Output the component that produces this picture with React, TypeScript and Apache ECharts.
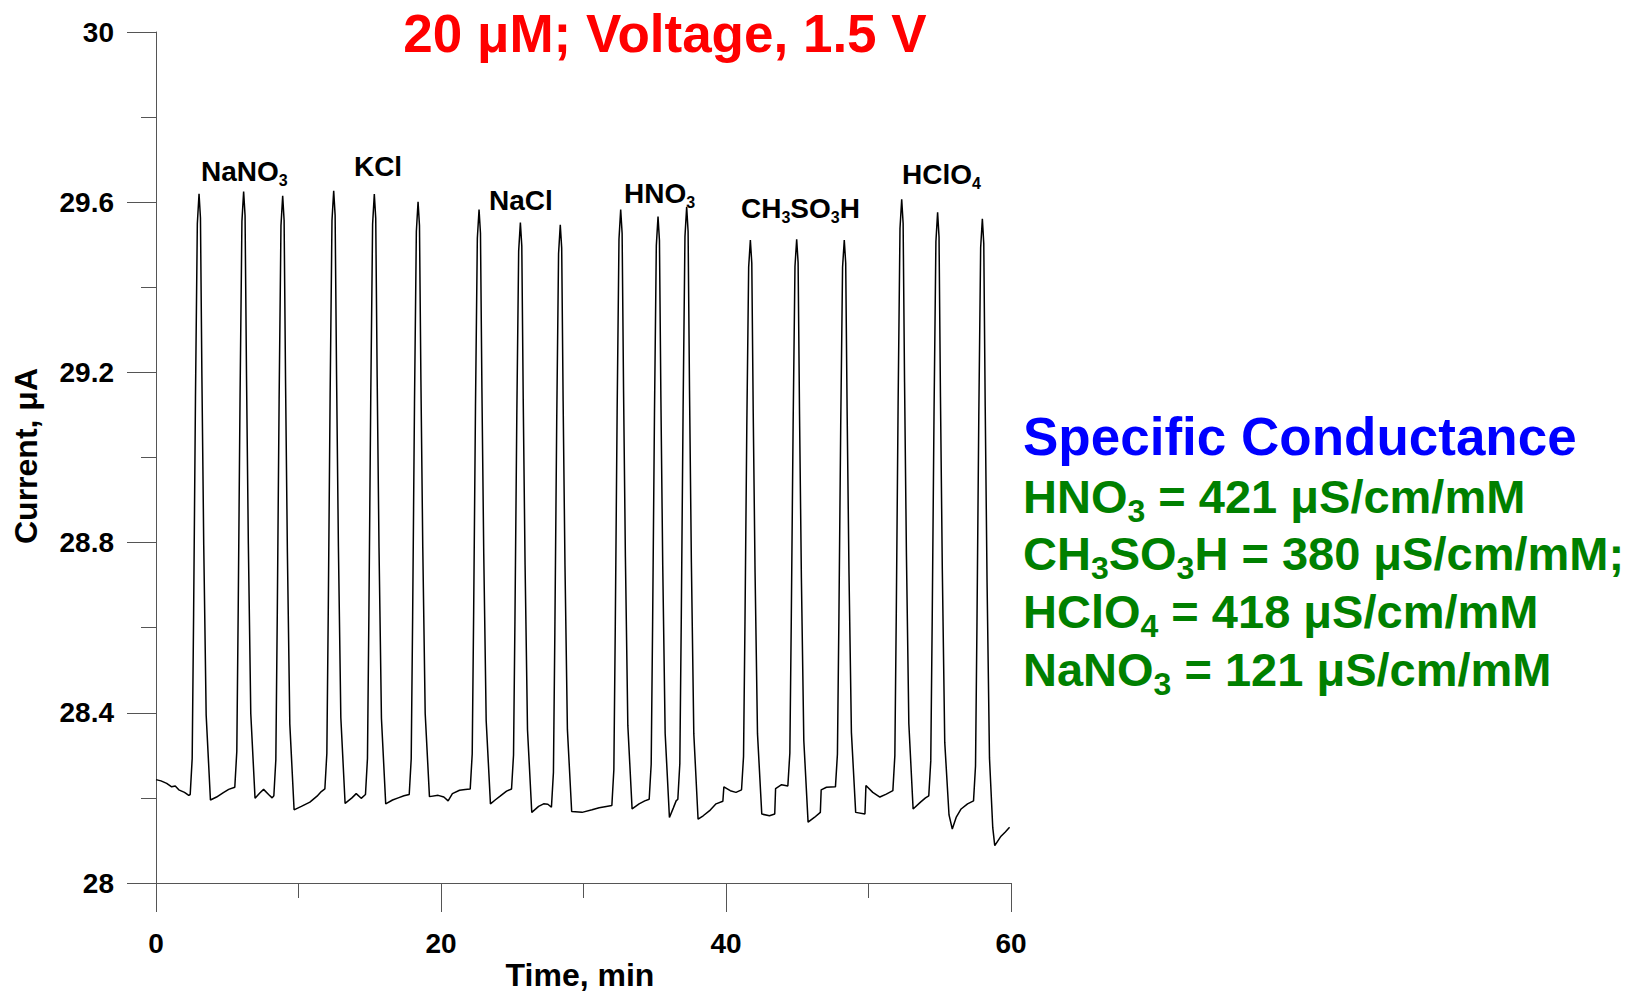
import React, { useEffect, useRef } from "react";
import * as echarts from "echarts";

const FONT = '"Liberation Sans", Arial, Helvetica, sans-serif';

// ---- Data: [time (min), current (µA)] ----
const traceStart: number[][] = [
  [0, 28.243], [0.35, 28.24], [0.75, 28.234], [1.1, 28.226], [1.35, 28.228], [1.6, 28.219], [2.0, 28.213], [2.3, 28.206],
];

const traceNaNO3: number[][] = [
  [2.4, 28.208], [2.54, 28.293], [2.64, 28.632], [2.77, 29.14], [2.9, 29.549], [3.02, 29.62], [3.12, 29.563], [3.22, 29.193], [3.35, 28.794], [3.52, 28.395], [3.82, 28.195],
  [4.25, 28.202], [4.7, 28.212], [5.1, 28.22],
  [5.53, 28.225], [5.67, 28.309], [5.77, 28.645], [5.9, 29.149], [6.03, 29.555], [6.15, 29.625], [6.25, 29.568], [6.35, 29.197], [6.48, 28.798], [6.65, 28.399], [6.95, 28.199],
  [7.3, 28.212], [7.55, 28.22], [7.9, 28.208], [8.15, 28.2],
  [8.27, 28.205], [8.41, 28.29], [8.51, 28.628], [8.64, 29.136], [8.77, 29.545], [8.89, 29.615], [8.99, 29.557], [9.09, 29.182], [9.22, 28.778], [9.39, 28.374], [9.69, 28.172],
  [10.2, 28.18], [10.8, 28.19], [11.3, 28.204], [11.6, 28.215],
];

const traceKCl: number[][] = [
  [11.85, 28.221], [11.99, 28.305], [12.09, 28.643], [12.22, 29.149], [12.35, 29.557], [12.47, 29.627], [12.57, 29.569], [12.67, 29.195], [12.8, 28.792], [12.97, 28.389], [13.27, 28.187],
  [13.75, 28.2], [14.05, 28.21], [14.4, 28.199],
  [14.7, 28.208], [14.84, 28.293], [14.94, 28.631], [15.07, 29.139], [15.2, 29.548], [15.32, 29.619], [15.42, 29.562], [15.52, 29.189], [15.65, 28.788], [15.82, 28.387], [16.12, 28.186],
  [16.6, 28.195], [17.0, 28.2], [17.4, 28.205],
  [17.77, 28.208], [17.91, 28.292], [18.01, 28.626], [18.14, 29.127], [18.27, 29.531], [18.39, 29.601], [18.49, 29.545], [18.59, 29.182], [18.72, 28.79], [18.89, 28.399], [19.19, 28.203],
  [19.8, 28.206], [20.2, 28.202], [20.5, 28.193], [20.8, 28.21], [21.3, 28.218], [21.7, 28.22],
];

const traceNaCl: number[][] = [
  [22.05, 28.221], [22.19, 28.303], [22.29, 28.63], [22.42, 29.12], [22.55, 29.515], [22.67, 29.583], [22.77, 29.527], [22.87, 29.164], [23.0, 28.773], [23.17, 28.382], [23.47, 28.186],
  [23.8, 28.195], [24.15, 28.204], [24.6, 28.216],
  [24.95, 28.221], [25.09, 28.301], [25.19, 28.62], [25.32, 29.099], [25.45, 29.485], [25.57, 29.552], [25.67, 29.497], [25.77, 29.136], [25.9, 28.748], [26.07, 28.36], [26.37, 28.166],
  [26.85, 28.18], [27.2, 28.186], [27.5, 28.185],
  [27.75, 28.178], [27.89, 28.26], [27.99, 28.589], [28.12, 29.082], [28.25, 29.479], [28.37, 29.547], [28.47, 29.492], [28.57, 29.133], [28.7, 28.747], [28.87, 28.361], [29.17, 28.168],
  [29.9, 28.166], [30.6, 28.172], [31.1, 28.177], [31.6, 28.18],
];

const traceHNO3: number[][] = [
  [31.99, 28.182], [32.13, 28.266], [32.23, 28.602], [32.36, 29.107], [32.49, 29.513], [32.61, 29.583], [32.71, 29.527], [32.81, 29.16], [32.94, 28.766], [33.11, 28.371], [33.41, 28.174],
  [33.9, 28.186], [34.3, 28.193],
  [34.61, 28.197], [34.75, 28.279], [34.85, 28.608], [34.98, 29.101], [35.11, 29.498], [35.23, 29.566], [35.33, 29.51], [35.43, 29.142], [35.56, 28.747], [35.73, 28.352], [36.03, 28.154],
  [36.3, 28.176], [36.5, 28.193],
  [36.62, 28.197], [36.76, 28.281], [36.86, 28.615], [36.99, 29.116], [37.12, 29.519], [37.24, 29.589], [37.34, 29.531], [37.44, 29.157], [37.57, 28.754], [37.74, 28.351], [38.04, 28.15],
  [38.4, 28.158], [38.85, 28.17], [39.3, 28.186], [39.78, 28.192], [39.85, 28.226], [40.3, 28.217], [40.7, 28.213],
];

const traceCH3SO3H: number[][] = [
  [41.09, 28.219], [41.23, 28.297], [41.33, 28.607], [41.46, 29.073], [41.59, 29.447], [41.71, 29.511], [41.81, 29.457], [41.91, 29.106], [42.04, 28.729], [42.21, 28.351], [42.51, 28.162],
  [43.05, 28.158], [43.42, 28.162], [43.48, 28.222], [43.9, 28.231],
  [44.34, 28.228], [44.48, 28.305], [44.58, 28.614], [44.71, 29.076], [44.84, 29.449], [44.96, 29.513], [45.06, 29.458], [45.16, 29.102], [45.29, 28.718], [45.46, 28.335], [45.76, 28.143],
  [46.2, 28.154], [46.62, 28.166], [46.68, 28.219], [47.05, 28.225],
  [47.68, 28.226], [47.82, 28.303], [47.92, 28.612], [48.05, 29.074], [48.18, 29.447], [48.3, 29.511], [48.4, 29.457], [48.5, 29.108], [48.63, 28.731], [48.8, 28.354], [49.1, 28.166],
  [49.75, 28.162], [49.82, 28.229], [50.3, 28.213], [50.8, 28.202], [51.25, 28.209],
];

const traceHClO4: number[][] = [
  [51.71, 28.217], [51.85, 28.3], [51.95, 28.634], [52.08, 29.134], [52.21, 29.538], [52.33, 29.607], [52.43, 29.55], [52.53, 29.177], [52.66, 28.776], [52.83, 28.375], [53.13, 28.174],
  [53.65, 28.19], [54.0, 28.2],
  [54.23, 28.205], [54.37, 28.287], [54.47, 28.616], [54.6, 29.11], [54.73, 29.507], [54.85, 29.576], [54.95, 29.518], [55.05, 29.142], [55.18, 28.736], [55.35, 28.331], [55.65, 28.16], [55.88, 28.127],
  [56.15, 28.154], [56.5, 28.174], [56.95, 28.186],
  [57.37, 28.193], [57.51, 28.275], [57.61, 28.603], [57.74, 29.096], [57.87, 29.493], [57.99, 29.561], [58.09, 29.502], [58.19, 29.119], [58.32, 28.707], [58.49, 28.294], [58.72, 28.13], [58.86, 28.088],
  [59.3, 28.11], [59.6, 28.12], [59.9, 28.131],
];

// Peak-group labels (rich text), anchored at (time, current) of their left edge
const peakLabels = ["NaNO{s|3}", "KCl", "NaCl", "HNO{s|3}", "CH{s|3}SO{s|3}H", "HClO{s|4}"];
const peakLabelTimes = [3.16, 13.89, 23.37, 32.84, 41.05, 52.35];
const peakLabelCurrents = [29.671, 29.683, 29.605, 29.62, 29.586, 29.664];

// Axis ticks
const yMin = 28;
const yMax = 30;
const yStep = 0.4;
const xMin = 0;
const xMax = 60;
const xStep = 20;

// Annotation texts
const titleText = "20 μM; Voltage, 1.5 V";
const conductanceTitle = "Specific Conductance";
const conductanceLines = [
  "HNO{s|3} = 421 μS/cm/mM",
  "CH{s|3}SO{s|3}H = 380 μS/cm/mM;",
  "HClO{s|4} = 418 μS/cm/mM",
  "NaNO{s|3} = 121 μS/cm/mM",
];

export default function App() {
  const ref = useRef<HTMLDivElement>(null);

  useEffect(() => {
    if (!ref.current) return;
    const chart = echarts.init(ref.current, undefined, { renderer: "svg" });
    const trace = traceStart.concat(traceNaNO3, traceKCl, traceNaCl, traceHNO3, traceCH3SO3H, traceHClO4);
    const axisColor = "#555";
    const greenY = [496, 553, 611, 669];

    chart.setOption({
      animation: false,
      backgroundColor: "#fff",
      grid: { left: 156, right: 622, top: 32, bottom: 110, containLabel: false, outerBoundsMode: "none" },
      xAxis: {
        type: "value",
        min: xMin,
        max: xMax,
        interval: xStep,
        axisLine: { show: true, onZero: false, lineStyle: { color: axisColor, width: 1 } },
        axisTick: { show: true, length: 29, inside: false, lineStyle: { color: axisColor, width: 1 } },
        minorTick: { show: true, splitNumber: 2, length: 15, lineStyle: { color: axisColor, width: 1 } },
        splitLine: { show: false },
        minorSplitLine: { show: false },
        axisLabel: { margin: 46, fontSize: 28, fontWeight: "bold", color: "#000", fontFamily: FONT, showMinLabel: true, showMaxLabel: true },
      },
      yAxis: {
        type: "value",
        min: yMin,
        max: yMax,
        interval: yStep,
        axisLine: { show: true, onZero: false, lineStyle: { color: axisColor, width: 1 } },
        axisTick: { show: true, length: 29, inside: false, lineStyle: { color: axisColor, width: 1 } },
        minorTick: { show: true, splitNumber: 2, length: 15, lineStyle: { color: axisColor, width: 1 } },
        splitLine: { show: false },
        minorSplitLine: { show: false },
        axisLabel: { margin: 42, fontSize: 28, fontWeight: "bold", color: "#000", fontFamily: FONT, showMinLabel: true, showMaxLabel: true },
      },
      series: [
        {
          type: "line",
          data: trace,
          showSymbol: false,
          symbol: "none",
          smooth: false,
          silent: true,
          lineStyle: { color: "#000", width: 1.5 },
        },
      ],
    });

    const peakLabelGraphics = peakLabels.map((t, i) => {
      const p = chart.convertToPixel({ gridIndex: 0 }, [peakLabelTimes[i], peakLabelCurrents[i]]) as number[];
      return {
        type: "text",
        x: p[0],
        y: p[1],
        silent: true,
        style: {
          text: t,
          fill: "#000",
          fontSize: 28,
          fontWeight: "bold",
          fontFamily: FONT,
          lineHeight: 34,
          align: "left",
          verticalAlign: "middle",
          rich: {
            s: { fontSize: 16, fontWeight: "bold", fontFamily: FONT, fill: "#000", verticalAlign: "bottom" },
          },
        },
      };
    });

    chart.setOption({
      graphic: [
        ...peakLabelGraphics,
        {
          type: "text",
          x: 665,
          y: 33,
          silent: true,
          style: { text: titleText, fill: "#ff0000", fontSize: 53, fontWeight: "bold", fontFamily: FONT, align: "center", verticalAlign: "middle" },
        },
        {
          type: "text",
          x: 26,
          y: 456,
          rotation: Math.PI / 2,
          silent: true,
          style: { text: "Current, μA", fill: "#000", fontSize: 32, fontWeight: "bold", fontFamily: FONT, align: "center", verticalAlign: "middle" },
        },
        {
          type: "text",
          x: 580,
          y: 975,
          silent: true,
          style: { text: "Time, min", fill: "#000", fontSize: 32, fontWeight: "bold", fontFamily: FONT, align: "center", verticalAlign: "middle" },
        },
        {
          type: "text",
          x: 1023,
          y: 436,
          silent: true,
          style: { text: conductanceTitle, fill: "#0000ff", fontSize: 53, fontWeight: "bold", fontFamily: FONT, align: "left", verticalAlign: "middle" },
        },
        ...conductanceLines.map((t, i) => ({
          type: "text",
          x: 1023,
          y: greenY[i],
          silent: true,
          style: {
            text: t,
            fill: "#008000",
            fontSize: 47,
            fontWeight: "bold",
            fontFamily: FONT,
            lineHeight: 62,
            align: "left",
            verticalAlign: "middle",
            rich: {
              s: { fontSize: 32, fontWeight: "bold", fontFamily: FONT, fill: "#008000", verticalAlign: "bottom" },
            },
          },
        })),
      ],
    });

    return () => chart.dispose();
  }, []);

  return (
    <div
      ref={ref}
      style={{ position: "absolute", left: 0, top: 0, width: 1633, height: 993, background: "#fff" }}
    />
  );
}
